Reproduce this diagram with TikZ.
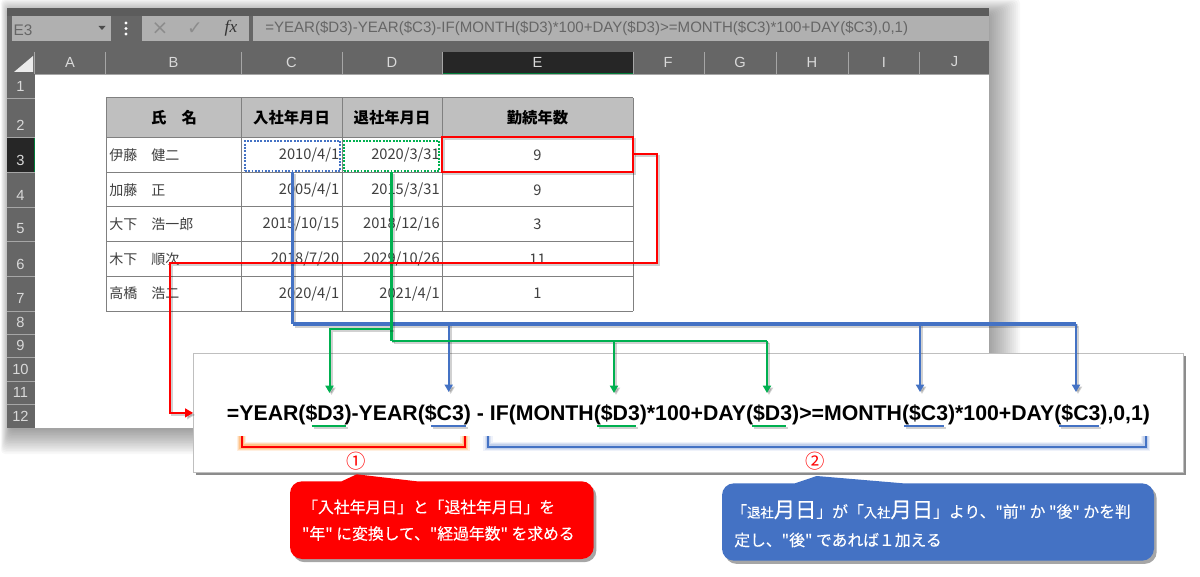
\documentclass[tikz,border=0pt]{standalone}
\usepackage{xcolor}
\usepackage{fontspec}
\setmainfont{Noto Sans CJK JP}
\newfontfamily\callfont[FakeBold=0.25]{Noto Sans CJK JP}
\newfontfamily\fmlafont{Liberation Sans}
\newfontfamily\iconfont{DejaVu Sans}
\usetikzlibrary{arrows.meta,shadows}
\definecolor{xlblue}{HTML}{4472C4}
\definecolor{xlgreen}{HTML}{00B050}
\definecolor{xlhead}{HTML}{666666}
\definecolor{xlbar}{HTML}{B0B0B0}
\definecolor{xltext}{HTML}{404040}
\newcommand{\fsz}[1]{\fontsize{#1}{#1}\selectfont}
\newcommand{\softdraw}[2]{\draw[#1, draw=black, opacity=0.18, transform canvas={xshift=1.5pt, yshift=-1.5pt}] #2; \draw[#1] #2;}
\tikzset{
    collab/.style={text=white!85!black, anchor=center, inner sep=0pt, font=\fmlafont\fsz{11}},
    rowlab/.style={text=white!85!black, anchor=center, inner sep=0pt, font=\fmlafont\fsz{11}},
    cellname/.style={text=xltext, anchor=west, inner sep=0pt, font=\fsz{10.5}},
    celldate/.style={text=xltext, anchor=east, inner sep=0pt, font=\fsz{11}},
    cellyrs/.style={text=xltext, anchor=center, inner sep=0pt, font=\fsz{11}},
    headcell/.style={text=black, anchor=center, inner sep=0pt, font=\bfseries\fsz{11.5}},
    dotbox/.style={draw=#1, line width=1.5pt, dash pattern=on 1.4pt off 1.1pt, inner sep=0pt, minimum width=71.5pt, minimum height=22.5pt},
    mainline/.style={draw=#1, line width=2.3pt},
    branchline/.style={draw=#1, line width=1.5pt, -{Triangle[length=5.5pt,width=6pt]}},
    calltext/.style={text=white, anchor=west, inner sep=0pt, font=\callfont\fsz{11.85}},
    callshape/.style={fill=#1, rounded corners=9pt, drop shadow={shadow xshift=2pt, shadow yshift=-2.4pt, opacity=0.35, fill=black}},
}
\begin{document}
\begin{tikzpicture}[x=0.75pt, y=-0.75pt]
    \useasboundingbox (0,0) rectangle (1200,577);
    \foreach \s in {0,2,...,30}
    \fill[black, opacity=0.028, rounded corners=3pt] (10-0.3*\s,14-0.5*\s) rectangle (990+\s,430+0.8*\s);
    \filldraw[fill=xlhead, draw=none] (6.5,8) rectangle (989,427.5);
    \fill[xlhead!90!black] (6.5,8) rectangle (989,16);
    \filldraw[fill=white, draw=none] (34.5,74) rectangle (989,427.5);
    \filldraw[fill=xlbar, draw=none] (11.5,16) rectangle (111,41);
    \filldraw[fill=xlbar, draw=none] (142,16) rectangle (249,41);
    \filldraw[fill=xlbar, draw=none] (253,16) rectangle (989,41);
    \node[anchor=center, inner sep=0pt, text=xlhead, font=\fmlafont\fsz{11.5}] (cellref) at (23,30) {E3};
    \fill[black!70] (98.5,26) -- (105.5,26) -- (102,30) -- cycle;
    \foreach \y in {23,28.5,34}
    \fill[white] (126,\y) circle (1.6);
    \node[anchor=center, inner sep=0pt, text=black!45, font=\iconfont\fsz{15}] (crossicon) at (160,29) {×};
    \node[anchor=center, inner sep=0pt, text=black!45, font=\iconfont\fsz{14}] (checkicon) at (195,29) {✓};
    \node[anchor=center, inner sep=0pt, text=black!80, font=\rmfamily\fsz{13}] (fxicon) at (231,28) {\fontspec{Liberation Serif}\itshape fx};
    \node[anchor=west, inner sep=0pt, text=xlhead, font=\fmlafont\fsz{11.3}] (formulabar) at (265,28.5) {=YEAR(\$D3)-YEAR(\$C3)-IF(MONTH(\$D3)*100+DAY(\$D3)>=MONTH(\$C3)*100+DAY(\$C3),0,1)};
    \fill[black!85] (442,52) rectangle (633,74);
    \draw[xlgreen!70!black, line width=0.8pt] (442,74) -- (633,74);
    \fill[black!85] (6.5,137.5) rectangle (34.5,172);
    \draw[xlgreen!70!black, line width=0.8pt] (34.5,137.5) -- (34.5,172);
    \fill[white!92!black] (14,72) -- (33,72) -- (33,56) -- cycle;
    \foreach \x in {34.5,105,241.5,342,442,633,704.5,776,848,919}
    \draw[white!65!black, line width=0.6pt] (\x,52) -- (\x,74);
    \foreach \y in {98,137.5,172,207,241.7,276.3,311.3,334.3,357.7,381.3,404.3}
    \draw[white!65!black, line width=0.6pt] (6.5,\y) -- (34.5,\y);
    \draw[white!65!black, line width=0.6pt] (34.5,74) -- (989,74);
    \foreach \c/\x in {A/70,B/173.6,C/291.5,D/392,E/537.5,F/668,G/740,H/812,I/884,J/954.5}
    \node[collab] (col\c) at (\x,62) {\c};
    \foreach \r/\y in {1/86,2/125,3/160,4/195,5/229,6/264,7/298,8/322,9/345,10/369,11/392,12/416}
    \node[rowlab] (row\r) at (20.5,\y) {\r};
    \filldraw[fill=white!75!black, draw=none] (106,98) rectangle (633,137.5);
    \foreach \y in {98,137.5,172.3,207,241.7,276.3,311.3}
    \draw[black!50, line width=0.75pt] (106,\y) -- (633,\y);
    \foreach \x in {106,241.3,342,442.3,633}
    \draw[black!50, line width=0.75pt] (\x,98) -- (\x,311.3);
    \node[headcell] (headB) at (174,117.5) {氏　名};
    \node[headcell] (headC) at (291.5,117.5) {入社年月日};
    \node[headcell] (headD) at (392,117.5) {退社年月日};
    \node[headcell] (headE) at (537.5,117.5) {勤続年数};
    \foreach \r/\y/\nm/\dc/\dd/\ye in {3/155/伊藤　健二/2010\slash 4\slash 1/2020\slash 3\slash 31/9,4/190/加藤　正/2005\slash 4\slash 1/2015\slash 3\slash 31/9,5/224/大下　浩一郎/2015\slash 10\slash 15/2018\slash 12\slash 16/3,6/259/木下　順次/2018\slash 7\slash 20/2029\slash 10\slash 26/11,7/293.5/高橋　浩二/2020\slash 4\slash 1/2021\slash 4\slash 1/1}
    {
    \node[cellname] (name\r) at (109,\y) {\nm};
    \node[celldate] (hire\r) at (339.5,\y) {\dc};
    \node[celldate] (quit\r) at (440,\y) {\dd};
    \node[cellyrs] (span\r) at (537.5,\y) {\ye};
    }
    \node[dotbox=xlblue] (boxC) at (292.5,156) {};
    \node[dotbox=xlgreen] (boxD) at (391.5,156) {};
    \node[inner sep=0pt, minimum width=143pt, minimum height=26pt] (boxE) at (537.5,154.5) {};
    \softdraw{draw=red, line width=2pt}{(boxE.south west) rectangle (boxE.north east)}
    \node[fill=white, draw=black!25, line width=0.6pt, inner sep=0pt, minimum width=742.2pt, minimum height=88.7pt, drop shadow={shadow xshift=2pt, shadow yshift=-2pt, opacity=0.45, fill=black}] (fbox) at (688.3,412.9) {};
    \coordinate (bluecorner) at (292.5,324);
    \coordinate (blueend) at (1076,324);
    \coordinate (greenleft) at (329.5,329.5);
    \coordinate (greenright) at (767,341);
    \coordinate (greenjoint) at (391.5,341);
    \coordinate (greenupper) at (391.5,329.5);
    \coordinate (tipBa) at (448.7,392);
    \coordinate (tipBb) at (920,392);
    \coordinate (tipBc) at (1076,392);
    \coordinate (tipGa) at (329.5,393);
    \coordinate (tipGb) at (614,393);
    \coordinate (tipGc) at (767,393);
    \coordinate (redturnR) at (657,263);
    \coordinate (redturnL) at (170,263);
    \softdraw{mainline=xlblue, line width=2.7pt}{(boxC.south) -- (bluecorner)}
    \softdraw{mainline=xlblue}{(bluecorner) -- (blueend)}
    \softdraw{branchline=xlblue}{(tipBa |- bluecorner) -- (tipBa)}
    \softdraw{branchline=xlblue}{(tipBb |- bluecorner) -- (tipBb)}
    \softdraw{branchline=xlblue}{(blueend) -- (tipBc)}
    \softdraw{mainline=xlgreen, line width=1.9pt}{(boxD.south) -- (greenjoint)}
    \softdraw{mainline=xlgreen, line width=1.9pt}{(greenjoint) -- (greenright)}
    \softdraw{branchline=xlgreen}{(greenupper) -- (greenleft) -- (tipGa)}
    \softdraw{branchline=xlgreen}{(tipGb |- greenjoint) -- (tipGb)}
    \softdraw{branchline=xlgreen}{(greenright) -- (tipGc)}
    \softdraw{draw=red, line width=1.5pt, -{Triangle[length=6pt,width=6.5pt]}}{(boxE.east) -| (redturnR) -| (redturnL) |- (fbox.west)}
    \node[anchor=base west, inner sep=0pt, text=black, font=\fmlafont\bfseries\fsz{15.95}] (fmla) at (226.7,420.5) {=YEAR(\$D3)-YEAR(\$C3) - IF(MONTH(\$D3)*100+DAY(\$D3)>=MONTH(\$C3)*100+DAY(\$C3),0,1)};
    \foreach \a/\b/\col in {311.7/345.7/xlgreen,431/465.7/xlblue,597/635.7/xlgreen,752/786/xlgreen,904/943.7/xlblue,1059/1099/xlblue}
    {
    \softdraw{draw=\col, line width=1.5pt}{(\a,426.2) -- (\b,426.2)}
    }
    \foreach \w/\op in {7/0.12,5/0.18,3.5/0.25}
    {
    \draw[orange, line width=\w pt, opacity=\op] (241.7,436) -- (241.7,446.7) -- (465,446.7) -- (465,436);
    \draw[xlblue!70!white, line width=\w pt, opacity=\op] (488,436) -- (488,446.7) -- (1145.7,446.7) -- (1145.7,436);
    }
    \draw[red, line width=1.5pt] (241.7,436) -- (241.7,446.7) -- (465,446.7) -- (465,436);
    \draw[xlblue, line width=1.5pt] (488,436) -- (488,446.7) -- (1145.7,446.7) -- (1145.7,436);
    \node[text=red, inner sep=0pt, font=\fsz{14.5}] (markone) at (356,460.7) {①};
    \node[text=red, inner sep=0pt, font=\fsz{14.5}] (marktwo) at (815,460.7) {②};
    \path[callshape=red] (290,481.3) [sharp corners] -- (341.7,481.3) -- (356.7,474.3) -- (416.7,481.3) [rounded corners=9pt] -- (593.7,481.3) -- (593.7,559) -- (290,559) -- cycle;
    \path[callshape=xlblue] (722,483.3) [sharp corners] -- (795,483.3) -- (816.7,476) -- (903,483.3) [rounded corners=9pt] -- (1154,483.3) -- (1154,560.7) -- (722,560.7) -- cycle;
    \node[calltext] (redlineA) at (302,507) {「入社年月日」と「退社年月日」を};
    \node[calltext] (redlineB) at (301.7,533.5) {"年" に変換して、"経過年数" を求める};
    \node[calltext] (bluelineA) at (731,510) {「{\fsz{10}退社}{\fsz{16}月日}」が「{\fsz{10}入社}{\fsz{16}月日}」より、"前" か "後" かを判};
    \node[calltext] (bluelineB) at (734,540) {定し、"後" であれば１加える};
\end{tikzpicture}
\end{document}
